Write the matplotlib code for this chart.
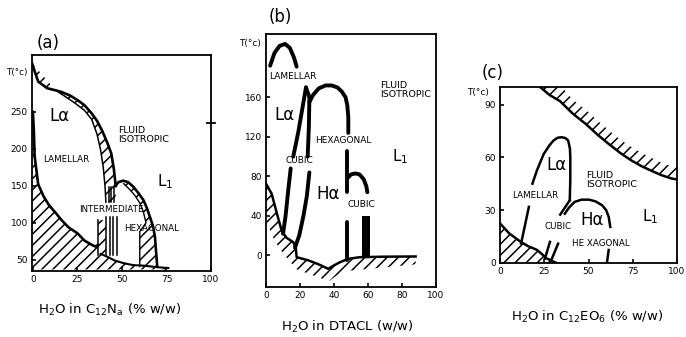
import numpy as np
import matplotlib.pyplot as plt

plt.rcParams['font.family'] = ['DejaVu Sans']
plt.rcParams['mathtext.default'] = 'regular'
plt.rcParams['hatch.linewidth'] = 1.1

# ---------------- panel (a): H2O in C12Na ----------------
a_xticks = [0, 25, 50, 75, 100]
a_yticks = [50, 100, 150, 200, 250]
# L-alpha / L1 two-phase band (outer + inner edge)
a_out_x = [-0.5, 1, 3, 8, 13, 16, 21, 25, 29, 33, 36, 39, 42, 44, 45.5, 46.5]
a_out_T = [316, 305, 291, 282, 279, 277, 272, 266, 259, 248, 238, 224, 207, 194, 172, 150]
a_in_x = [13, 18, 23, 29, 33, 36, 38, 39.5, 40.5, 41]
a_in_T = [279, 271, 263, 252, 240, 220, 199, 175, 150, 128]
# hexagonal dome (outer + inner edge)
a_hex_out_x = [46.5, 48, 50.7, 53.5, 56.3, 59, 62, 64, 65.7, 67.5, 68.5, 69.2, 69.8]
a_hex_out_T = [150, 155, 157, 155, 149, 141, 131, 120, 108, 95, 81.5, 60, 41]
a_hex_in_x = [51, 54, 57, 60, 62, 63.5, 60, 60]
a_hex_in_T = [153, 146, 138, 127, 115, 100, 88, 41]
# solidus and bottom boundary
a_sol_x = [0, 0.5, 1, 3, 6, 9, 13, 16, 20, 25, 29, 32.5, 35, 36.5]
a_sol_T = [250, 228, 190, 152, 136, 124, 113, 104, 94, 86, 76, 71, 68, 70]
a_bot_x = [38, 42, 46, 51, 56, 63, 70, 76]
a_bot_T = [58, 54, 49, 45.5, 43, 42, 40, 39]
# intermediate phase strips
a_int_x = [36.5, 41]
a_int_T = [56, 104]
a_bar_x = [41.2, 43.5, 45.2, 47.0]
a_bar_T = [56, 108]
a_bar2_x = [42.5, 44, 45.5]
a_bar2_T = [128, 148]

# ---------------- panel (b): H2O in DTACL ----------------
b_xticks = [0, 20, 40, 60, 80, 100]
b_yticks = [0, 40, 80, 120, 160]
b_lam_x = [2.4, 5, 8, 11.2, 14, 16.5, 18]
b_lam_T = [192, 205, 212, 214, 210, 200, 191]
b_left1_x = [23.5, 21.5, 19, 16]
b_left1_T = [170, 150, 125, 100]
b_left2_x = [14.5, 13, 11.5, 10]
b_left2_T = [88, 65, 40, 22]
b_right1_x = [23.5, 25.5, 25.2, 24.5]
b_right1_T = [170, 160, 130, 100]
b_right2_x = [25.5, 24, 22, 19.5, 17]
b_right2_T = [84, 60, 40, 20, 8]
b_hex_x = [25.5, 27.5, 31, 35, 38.6, 42, 44.5, 46.8, 47.8, 48.4, 48.4]
b_hex_T = [155, 162, 169, 172, 172, 170, 166, 160, 152, 140, 124]
b_h_x = [47.8, 47.8]
b_h_T = [106, 64]
b_arch_x = [47.8, 50, 52.5, 55, 57.5, 59, 59.6]
b_arch_T = [78, 82, 83, 82, 77, 70, 64]
b_thin_x = [47.8, 47.8]
b_thin_T = [34, -5]
b_cub_x = [56.3, 61.2]
b_cub_T = [-3, 40]
b_sol_x = [0, 3.3, 6, 9.2, 12, 16, 17.5, 18, 25, 31, 36.6, 40, 43.5, 48.4, 55.3, 70, 88]
b_sol_T = [72.6, 62.5, 45, 25, 18, 13.5, 8, -1.7, -5, -9, -13.5, -10, -6.8, -3.4, -1.7, -1.2, -1]
b_low_x = [0, 5, 10, 18, 37, 45, 88]
b_low_T = [35, 15, 2, -14, -26, -16, -9]

# ---------------- panel (c): H2O in C12EO6 ----------------
c_xticks = [0, 25, 50, 75, 100]
c_yticks = [0, 30, 60, 90]
c_cp_x = [22.9, 28, 33.9, 41, 48.5, 55, 61.4, 68, 74.2, 80, 85.2, 91, 97, 100]
c_cp_T = [99.8, 95.5, 92, 85, 79, 73, 67.7, 62.5, 58.3, 55, 52.6, 50, 48, 47.5]
c_cpu_x = [22.9, 35, 41, 48.5, 55, 61.4, 68, 74.2, 80, 85.2, 91, 97, 100]
c_cpu_T = [100, 100, 93, 87, 81, 75.5, 70, 66, 62.5, 60, 57, 55, 54.5]
c_lam1_x = [11.9, 14, 16.3]
c_lam1_T = [11.1, 21, 31.9]
c_lam2_x = [18.3, 21, 24.7, 28, 30.2, 32.5, 34.8, 37, 38.5, 39.5, 39.7, 39.7, 39.4]
c_lam2_T = [45.1, 53, 62, 67, 69.6, 71.2, 71.5, 71, 69.6, 65, 60.2, 47, 35.6]
c_y_x = [34, 39.4]
c_y_T = [27.5, 35.6]
c_hex_x = [36.6, 39, 42.1, 46, 50.4, 54, 57.7, 60, 61.4, 62.3]
c_hex_T = [28, 31.5, 34.7, 36, 36, 35, 32.8, 30, 26.2, 20.5]
c_hexb_x = [61.4, 60.4]
c_hexb_T = [7.4, 0]
c_cub1_x = [25.4, 28.2]
c_cub1_T = [2.6, 12]
c_cub2_x = [29, 32.8]
c_cub2_T = [1.7, 11]
c_sol_x = [0, 5, 11.7, 16, 21, 26.4, 31.9]
c_sol_T = [22.5, 17, 12, 9.5, 7.4, 2.6, 0]


def hatch_poly(ax, xs, ys):
    ax.fill(xs, ys, facecolor='none', edgecolor='black', linewidth=0, hatch='///')


def setup(ax, xlim, ylim, xt, yt):
    ax.set_xlim(*xlim)
    ax.set_ylim(*ylim)
    ax.set_xticks(xt)
    ax.set_yticks(yt)
    ax.tick_params(direction='in', length=3, width=1.2, labelsize=6.5, pad=3)
    for s in ax.spines.values():
        s.set_linewidth(1.3)


fig = plt.figure(figsize=(6.86, 3.37), dpi=100)
axa = fig.add_axes([0.0466, 0.196, 0.261, 0.641])
axb = fig.add_axes([0.3878, 0.148, 0.2478, 0.751])
axc = fig.add_axes([0.7289, 0.2196, 0.2580, 0.522])

# ---- (a) ----
ax = axa
setup(ax, (-0.5, 100), (35, 327), a_xticks, a_yticks)
hatch_poly(ax, a_out_x + [46.5, 41] + a_in_x[::-1],
           a_out_T + [128, 128] + a_in_T[::-1])
ax.plot(a_out_x, a_out_T, 'k', lw=1.9)
ax.plot(a_in_x, a_in_T, 'k', lw=1.1)
hatch_poly(ax, a_hex_out_x + a_hex_in_x[::-1], a_hex_out_T + a_hex_in_T[::-1])
ax.plot(a_hex_out_x, a_hex_out_T, 'k', lw=1.9)
ax.plot(a_hex_in_x, a_hex_in_T, 'k', lw=1.0)
hatch_poly(ax, a_sol_x + a_bot_x + [76, 0], a_sol_T + a_bot_T + [37, 37])
ax.plot(a_sol_x, a_sol_T, 'k', lw=1.9)
ax.plot(a_bot_x, a_bot_T, 'k', lw=1.5)
ax.fill_between(a_int_x, a_int_T[0], a_int_T[1], facecolor='white',
                edgecolor='black', linewidth=0, hatch='///')
ax.plot([a_int_x[0]] * 2, a_int_T, 'k', lw=1.1)
for xb in a_bar_x:
    ax.plot([xb, xb], a_bar_T, 'k', lw=1.1)
for xb in a_bar2_x:
    ax.plot([xb, xb], a_bar2_T, 'k', lw=1.1)
ax.plot([98, 102.5], [235, 235], 'k', lw=1.3, clip_on=False)
ax.text(15, 244, 'Lα', fontsize=12, ha='center', va='center')
ax.text(19, 185, 'LAMELLAR', fontsize=6.3, ha='center', va='center')
ax.text(48, 219, 'FLUID\nISOTROPIC', fontsize=6.8, ha='left', va='center', linespacing=1.0)
ax.text(74, 156, 'L$_1$', fontsize=11, ha='center', va='center')
ax.text(44, 117.6, 'INTERMEDIATE', fontsize=6.3, ha='center', va='center')
ax.text(66.6, 93, 'HEXAGONAL', fontsize=6.3, ha='center', va='center')
ax.text(-0.085, 0.92, 'T(°c)', transform=ax.transAxes, fontsize=6.3, ha='center', va='center')
ax.text(0.089, 1.056, '(a)', transform=ax.transAxes, fontsize=12, ha='center', va='center')

# ---- (b) ----
ax = axb
setup(ax, (0, 100), (-32, 224), b_xticks, b_yticks)
hatch_poly(ax, b_sol_x + b_low_x[::-1], b_sol_T + b_low_T[::-1])
ax.plot(b_sol_x, b_sol_T, 'k', lw=1.8)
for xs, ts in [(b_lam_x, b_lam_T), (b_left1_x, b_left1_T), (b_left2_x, b_left2_T),
               (b_right1_x, b_right1_T), (b_right2_x, b_right2_T), (b_hex_x, b_hex_T),
               (b_h_x, b_h_T), (b_arch_x, b_arch_T), (b_thin_x, b_thin_T)]:
    ax.plot(xs, ts, 'k', lw=2.8, solid_capstyle='round')
ax.fill_between(b_cub_x, b_cub_T[0], b_cub_T[1], color='black', linewidth=0)
ax.text(16, 181, 'LAMELLAR', fontsize=6.5, ha='center', va='center')
ax.text(67, 167, 'FLUID\nISOTROPIC', fontsize=6.8, ha='left', va='center', linespacing=1.0)
ax.text(11, 142, 'Lα', fontsize=12, ha='center', va='center')
ax.text(45.5, 116, 'HEXAGONAL', fontsize=6.5, ha='center', va='center')
ax.text(19.4, 96, 'CUBIC', fontsize=6.5, ha='center', va='center')
ax.text(78.8, 99.5, 'L$_1$', fontsize=11, ha='center', va='center')
ax.text(36.6, 62.5, 'Hα', fontsize=12, ha='center', va='center')
ax.text(56.3, 52, 'CUBIC', fontsize=6.5, ha='center', va='center')
ax.text(-0.094, 0.964, 'T(°c)', transform=ax.transAxes, fontsize=6.5, ha='center', va='center')
ax.text(0.082, 1.068, '(b)', transform=ax.transAxes, fontsize=12, ha='center', va='center')

# ---- (c) ----
ax = axc
setup(ax, (0, 100), (0, 100), c_xticks, c_yticks)
hatch_poly(ax, c_cp_x + c_cpu_x[::-1], c_cp_T + c_cpu_T[::-1])
ax.plot(c_cp_x, c_cp_T, 'k', lw=1.8)
hatch_poly(ax, c_sol_x + [0], c_sol_T + [0])
ax.plot(c_sol_x, c_sol_T, 'k', lw=1.8)
for xs, ts in [(c_lam1_x, c_lam1_T), (c_lam2_x, c_lam2_T), (c_y_x, c_y_T),
               (c_hex_x, c_hex_T), (c_hexb_x, c_hexb_T), (c_cub1_x, c_cub1_T),
               (c_cub2_x, c_cub2_T)]:
    ax.plot(xs, ts, 'k', lw=1.8)
ax.text(32, 55.5, 'Lα', fontsize=12, ha='center', va='center')
ax.text(48.4, 47, 'FLUID\nISOTROPIC', fontsize=6.8, ha='left', va='center', linespacing=1.0)
ax.text(20, 38.5, 'LAMELLAR', fontsize=6.3, ha='center', va='center')
ax.text(85, 26.2, 'L$_1$', fontsize=11, ha='center', va='center')
ax.text(52, 24.3, 'Hα', fontsize=12, ha='center', va='center')
ax.text(33, 20.5, 'CUBIC', fontsize=6.3, ha='center', va='center')
ax.text(56.8, 11.1, 'HE XAGONAL', fontsize=6.3, ha='center', va='center')
ax.text(-0.127, 0.97, 'T(°c)', transform=ax.transAxes, fontsize=6.5, ha='center', va='center')
ax.text(-0.044, 1.08, '(c)', transform=ax.transAxes, fontsize=12, ha='center', va='center')

fig.text(0.160, 0.080, r'H$_2$O in C$_{12}$N$_a$ (% w/w)', fontsize=9.5, ha='center', va='center')
fig.text(0.507, 0.030, r'H$_2$O in DTACL (w/w)', fontsize=9.5, ha='center', va='center')
fig.text(0.856, 0.059, r'H$_2$O in C$_{12}$EO$_6$ (% w/w)', fontsize=9.5, ha='center', va='center')

fig.savefig('out.png', dpi=100)
